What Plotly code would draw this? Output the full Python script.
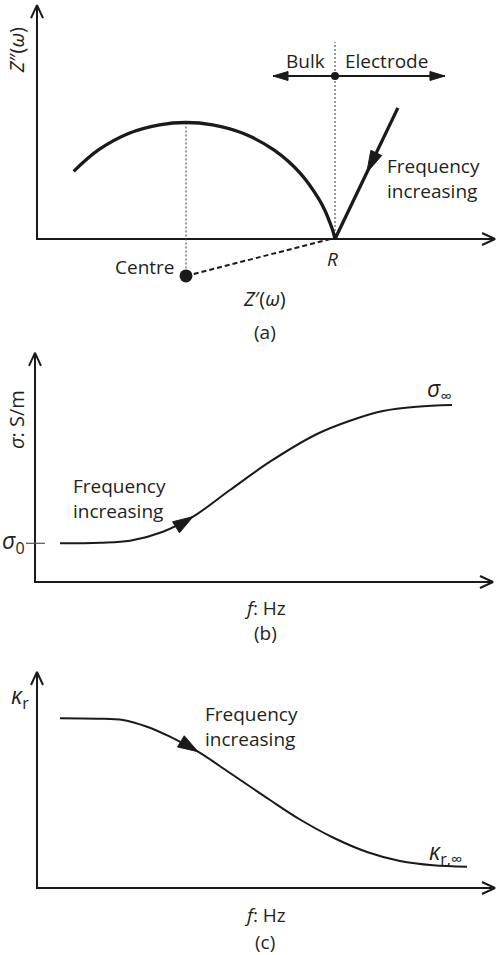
import plotly.graph_objects as go

W, H = 496, 955
INK = "#1a1a1a"
TXT = "#231f20"
FONT = "Open Sans"

# ---------------- data ----------------
# (a) complex-impedance (Nyquist) schematic, units where R = 10
arc_zr = [1.23, 2.05, 3.07, 4.11, 5.00, 5.89, 6.93, 7.96, 8.83, 9.46, 9.67, 9.84, 9.93, 10.00]
arc_zi = [2.27, 2.98, 3.54, 3.83, 3.91, 3.83, 3.54, 2.98, 2.21, 1.34, 0.94, 0.52, 0.27, 0.00]
R_value = 10.0
centre_zr, centre_zi = 5.0, -1.24
electrode_zr = [10.0, 12.11]
electrode_zi = [0.0, 4.40]
bulk_electrode_y = 5.47
bulk_electrode_x = [7.92, 13.69]

# (b) conductivity vs frequency (arbitrary log-frequency units)
f_b = [0.625, 1.625, 2.375, 3.2, 3.95, 4.875, 5.875, 7.05, 7.875, 8.7, 9.55, 10.425]
sigma_b = [0.9675, 0.9825, 1.0325, 1.2575, 1.6325, 2.30, 3.0075, 3.70, 4.0325, 4.275, 4.3825, 4.425]
sigma_0 = 0.9675

# (c) relative permittivity vs frequency
f_c = [0.575, 1.5, 2.15, 2.75, 3.325, 4.025, 4.825, 5.825, 6.575, 7.4, 8.25, 9.075, 9.9, 10.75]
kappa_c = [4.2425, 4.2325, 4.2, 4.0325, 3.7825, 3.4075, 2.875, 2.2, 1.7125, 1.2625, 0.9, 0.675, 0.5675, 0.5325]

# ---------------- panel geometry ----------------
PANELS = {
    "a": dict(top=0, bot=340, ox=37, oy=239, s=29.8, xa="x", ya="y", xtop=15.37, ytop=7.85),
    "b": dict(top=340, bot=660, ox=35, oy=582, s=40.0, xa="x2", ya="y2", xtop=11.45, ytop=5.73),
    "c": dict(top=660, bot=955, ox=37, oy=888, s=40.0, xa="x3", ya="y3", xtop=11.45, ytop=5.40),
}

fig = go.Figure()


def line(p, xs, ys, width=2, dash=None, color=INK, shape="linear"):
    P = PANELS[p]
    fig.add_trace(go.Scatter(
        x=xs, y=ys, mode="lines", xaxis=P["xa"], yaxis=P["ya"],
        line=dict(color=color, width=width, dash=dash, shape=shape, smoothing=1.0),
        hoverinfo="skip", showlegend=False))


def head_pts(p, tip, d, back_px, half_px):
    s = PANELS[p]["s"]
    n = (-d[1], d[0])
    bx, by = tip[0] - d[0] * back_px / s, tip[1] - d[1] * back_px / s
    a1 = (bx + n[0] * half_px / s, by + n[1] * half_px / s)
    a2 = (bx - n[0] * half_px / s, by - n[1] * half_px / s)
    return a1, a2


def chevron(p, tip, d, back_px=13, half_px=6, width=2):
    a1, a2 = head_pts(p, tip, d, back_px, half_px)
    line(p, [a1[0], tip[0], a2[0]], [a1[1], tip[1], a2[1]], width=width)


def triangle(p, tip, d, back_px, half_px):
    P = PANELS[p]
    a1, a2 = head_pts(p, tip, d, back_px, half_px)
    fig.add_trace(go.Scatter(
        x=[tip[0], a1[0], a2[0], tip[0]], y=[tip[1], a1[1], a2[1], tip[1]],
        mode="lines", fill="toself", fillcolor=INK, line=dict(color=INK, width=1),
        xaxis=P["xa"], yaxis=P["ya"], hoverinfo="skip", showlegend=False))


def unit(dx, dy):
    L = (dx * dx + dy * dy) ** 0.5
    return (dx / L, dy / L)


def text(p, x, y, t, size=19, xanchor="center", yanchor="middle", angle=0, align="center"):
    P = PANELS[p]
    fig.add_annotation(x=x, y=y, xref=P["xa"], yref=P["ya"], text=t, showarrow=False,
                       font=dict(family=FONT, size=size, color=TXT), xanchor=xanchor,
                       yanchor=yanchor, textangle=angle, align=align)


def axes(p):
    P = PANELS[p]
    line(p, [0, 0, P["xtop"]], [P["ytop"], 0, 0], width=2)
    chevron(p, (0, P["ytop"]), (0, 1))
    chevron(p, (P["xtop"], 0), (1, 0))


# ---------------- panel (a) ----------------
axes("a")
line("a", [centre_zr, centre_zr], [max(arc_zi), centre_zi], width=1, dash="2px,2px", color="#333")
line("a", [R_value, R_value], [0, 6.61], width=1, dash="2px,2px", color="#333")
line("a", arc_zr, arc_zi, width=3.3, shape="spline")
line("a", electrode_zr, electrode_zi, width=3.3)
d_el = unit(electrode_zr[0] - electrode_zr[1], electrode_zi[0] - electrode_zi[1])
tip_el = (electrode_zr[0] + (electrode_zr[1] - electrode_zr[0]) * 0.505,
          electrode_zi[0] + (electrode_zi[1] - electrode_zi[0]) * 0.505)
triangle("a", tip_el, d_el, 22, 6)
line("a", [centre_zr, R_value - 0.15], [centre_zi, 0], width=2, dash="5px,3px")
fig.add_trace(go.Scatter(x=[centre_zr], y=[centre_zi], mode="markers", xaxis="x", yaxis="y",
                         marker=dict(size=13, color=INK), hoverinfo="skip", showlegend=False))
line("a", bulk_electrode_x, [bulk_electrode_y] * 2, width=2)
triangle("a", (bulk_electrode_x[0], bulk_electrode_y), (-1, 0), 15, 4.5)
triangle("a", (bulk_electrode_x[1], bulk_electrode_y), (1, 0), 15, 4.5)
fig.add_trace(go.Scatter(x=[R_value], y=[bulk_electrode_y], mode="markers", xaxis="x", yaxis="y",
                         marker=dict(size=8, color=INK), hoverinfo="skip", showlegend=False))
text("a", 9.72, 5.97, "Bulk", xanchor="right")
text("a", 10.27, 5.97, "Electrode", xanchor="left")
text("a", 11.68, 2.03, "Frequency<br>increasing", xanchor="left", align="left")
text("a", 4.70, -0.94, "Centre", xanchor="right")
text("a", 9.9, -0.66, "<i>R</i>")
text("a", 7.65, -1.98, "<i>Z</i>′(<i>ω</i>)", size=20)
text("a", 7.65, -3.12, "(a)")
text("a", -0.70, 6.34, "<i>Z</i>″(<i>ω</i>)", size=20, angle=-90)

# ---------------- panel (b) ----------------
axes("b")
line("b", [-0.225, 0.25], [sigma_0, sigma_0], width=1.2, color="#555")
line("b", f_b, sigma_b, width=2, shape="spline")
triangle("b", (f_b[4], sigma_b[4]), unit(f_b[5] - f_b[3], sigma_b[5] - sigma_b[3]), 20, 6.5)
text("b", -0.55, sigma_0 + 0.05, "<i>σ</i><sub>0</sub>", size=23)
text("b", 10.1, 4.8, "<i>σ</i><sub>∞</sub>", size=23)
text("b", 0.9, 2.09, "Frequency<br>increasing", xanchor="left", align="left")
text("b", 5.75, -0.65, "<i>f</i>: Hz")
text("b", 5.75, -1.275, "(b)")
text("b", -0.45, 4.05, "<i>σ</i>: S/m", size=20, angle=-90)

# ---------------- panel (c) ----------------
axes("c")
line("c", f_c, kappa_c, width=2, shape="spline")
triangle("c", (f_c[5], kappa_c[5]), unit(f_c[6] - f_c[4], kappa_c[6] - kappa_c[4]), 20, 6.5)
text("c", -0.42, 4.8, "<i>κ</i><sub>r</sub>", size=23)
text("c", 10.2, 0.88, "<i>κ</i><sub>r,∞</sub>", size=23)
text("c", 4.15, 4.05, "Frequency<br>increasing", xanchor="left", align="left")
text("c", 5.7, -0.675, "<i>f</i>: Hz")
text("c", 5.7, -1.35, "(c)")

# ---------------- layout ----------------
lay = dict(width=W, height=H, margin=dict(l=0, r=0, t=0, b=0),
           paper_bgcolor="white", plot_bgcolor="white", showlegend=False)
for k, P in PANELS.items():
    xk = "xaxis" if P["xa"] == "x" else "xaxis" + P["xa"][1:]
    yk = "yaxis" if P["ya"] == "y" else "yaxis" + P["ya"][1:]
    lay[xk] = dict(domain=[0, 1], range=[-P["ox"] / P["s"], (W - P["ox"]) / P["s"]],
                   visible=False, fixedrange=True, anchor=P["ya"])
    lay[yk] = dict(domain=[1 - P["bot"] / H, 1 - P["top"] / H],
                   range=[(P["oy"] - P["bot"]) / P["s"], (P["oy"] - P["top"]) / P["s"]],
                   visible=False, fixedrange=True, anchor=P["xa"])
fig.update_layout(**lay)
fig.write_html("out.html", config={"displayModeBar": False},
               post_script="document.body.style.margin='0px';document.body.style.padding='0px';")
